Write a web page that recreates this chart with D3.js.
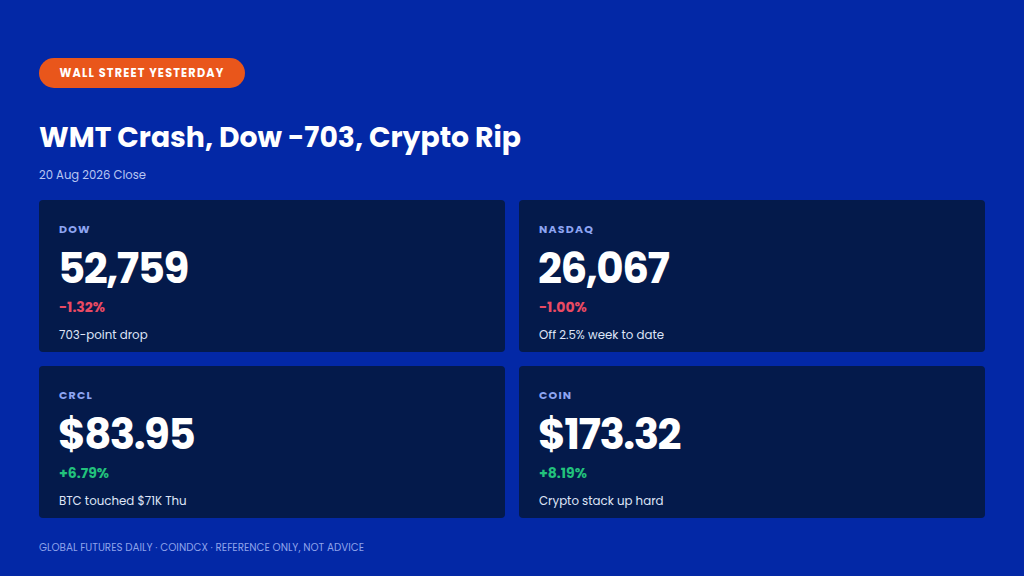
<!DOCTYPE html>
<html><head><meta charset="utf-8">
<script src="https://cdn.jsdelivr.net/npm/d3@7"></script>
<style>
html,body{margin:0;padding:0;background:#0328a6;}
svg{display:block;font-family:Poppins,Inter,"Noto Sans",sans-serif;}
</style></head><body>
<svg id="c" width="1024" height="576"></svg>
<script>
const badge = "WALL STREET YESTERDAY";
const title = "WMT Crash, Dow -703, Crypto Rip";
const subtitle = "20 Aug 2026 Close";
const footer = "GLOBAL FUTURES DAILY · COINDCX · REFERENCE ONLY, NOT ADVICE";
const tickers = ["DOW", "NASDAQ", "CRCL", "COIN"];
const values = ["52,759", "26,067", "$83.95", "$173.32"];
const changes = [-1.32, -1.00, 6.79, 8.19];
const notes = ["703-point drop", "Off 2.5% week to date", "BTC touched $71K Thu", "Crypto stack up hard"];

const svg = d3.select("#c");
svg.append("rect").attr("width",1024).attr("height",576).attr("fill","#0328a6");

// badge
svg.append("rect").attr("x",39).attr("y",58).attr("width",206).attr("height",30).attr("rx",15).attr("fill","#e9561b");
svg.append("text").attr("x",142).attr("y",77).attr("text-anchor","middle").attr("fill","#fff")
  .attr("font-size",11.5).attr("font-weight",700).attr("letter-spacing",1.2)
  .attr("textLength",165).attr("lengthAdjust","spacingAndGlyphs").text(badge);

svg.append("text").attr("x",39).attr("y",147).attr("fill","#fff").attr("font-size",28).attr("font-weight",700)
  .attr("textLength",482).attr("lengthAdjust","spacingAndGlyphs").text(title);
svg.append("text").attr("x",39).attr("y",179).attr("fill","#b9c6f2").attr("font-size",12)
  .attr("textLength",107).attr("lengthAdjust","spacingAndGlyphs").text(subtitle);

const cw = 466, ch = 152;
const col = d3.scaleOrdinal().domain([0,1]).range([39,519]);
const row = d3.scaleOrdinal().domain([0,1]).range([200,366]);

const data = tickers.map((t,i)=>({t, v:values[i], c:changes[i], n:notes[i], i}));
const g = svg.selectAll("g.card").data(data).join("g").attr("class","card")
  .attr("transform", d=>`translate(${col(d.i%2)},${row(Math.floor(d.i/2))})`);
g.append("rect").attr("width",cw).attr("height",ch).attr("rx",4).attr("fill","#041a4b");
g.append("text").attr("x",20).attr("y",33).attr("fill","#8ea5f2").attr("font-size",11).attr("font-weight",700)
  .attr("letter-spacing",1.2).text(d=>d.t);
g.append("text").attr("x",19).attr("y",82.5).attr("fill","#fff").attr("font-size",42).attr("font-weight",700)
  .attr("letter-spacing",-1.5).text(d=>d.v);
g.append("text").attr("x",20).attr("y",111.5).attr("font-size",14).attr("font-weight",700)
  .attr("fill",d=>d.c<0?"#ea4a63":"#22c27c")
  .text(d=>(d.c<0?"-":"+")+Math.abs(d.c).toFixed(2)+"%");
g.append("text").attr("x",20).attr("y",139).attr("fill","#dfe5f7").attr("font-size",11.8).text(d=>d.n);

svg.append("text").attr("x",39).attr("y",551).attr("fill","#8ea2ea").attr("font-size",10.5)
  .attr("textLength",325).attr("lengthAdjust","spacingAndGlyphs").text(footer);
</script>
</body></html>
